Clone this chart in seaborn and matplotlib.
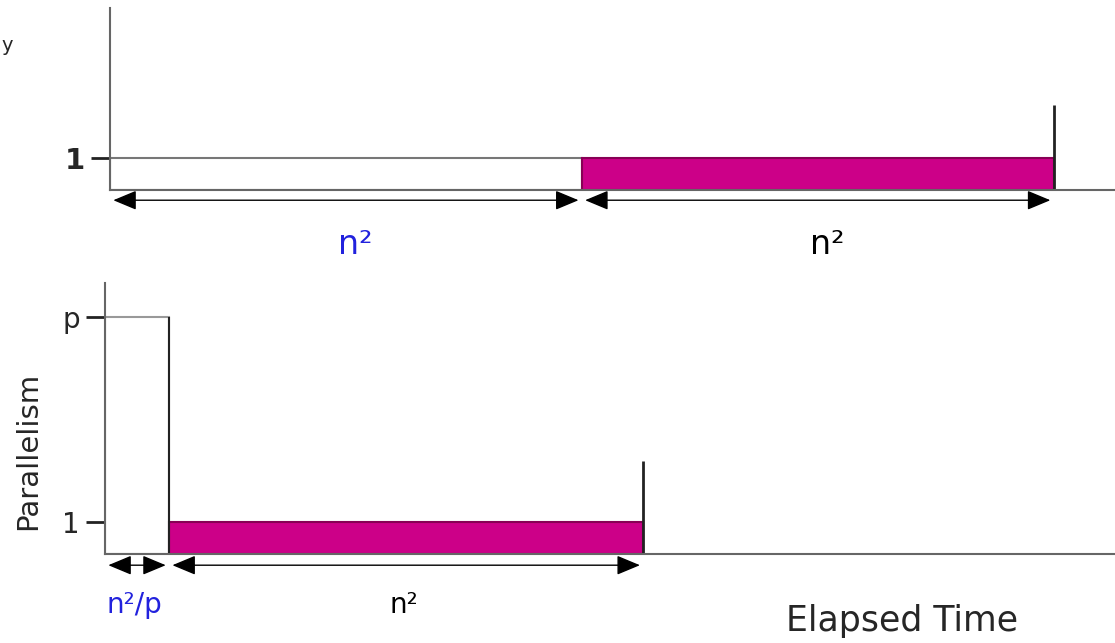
import seaborn as sns
import matplotlib.pyplot as plt

# top panel: sequential part then parallelizable part (units of n^2)
top_start = [0, 1]
top_width = [1, 1]
top_height = [1, 1]
top_colors = ['white', '#cc0088']
top_labels = ['n²', 'n²']
top_label_colors = ['#2222dd', 'black']

# bottom panel: p-way parallel part then sequential part
p = 7.4
bot_start = [0, 1 / p]
bot_width = [1 / p, 1]
bot_height = [p, 1]
bot_colors = ['white', '#cc0088']
bot_labels = ['n²/p', 'n²']
bot_label_colors = ['#2222dd', 'black']

sns.set_theme(style='white')
plt.rcParams['font.family'] = ['DejaVu Sans']

W, H = 1115, 643
fig = plt.figure(figsize=(W / 100, H / 100), dpi=100)

ax1 = fig.add_axes([110 / W, (H - 190) / H, (W - 110) / W, (190 - 8) / H])
ax2 = fig.add_axes([105 / W, (H - 554) / H, (W - 105) / W, (554 - 283) / H])


def style(ax, ymax):
    ax.set_xlim(0, 2.13)
    ax.set_ylim(0, ymax)
    sns.despine(ax=ax)
    for s in ['left', 'bottom']:
        ax.spines[s].set_color('#666666')
        ax.spines[s].set_linewidth(1.5)
    ax.set_xticks([])
    ax.tick_params(axis='y', left=True, length=14, width=2, color='#222222',
                   pad=4, labelsize=20)


def arrow(ax, x0, x1, y):
    ax.annotate('', xy=(x1, y), xytext=(x0, y), xycoords='data',
                annotation_clip=False,
                arrowprops=dict(arrowstyle='<|-|>,head_length=1.2,head_width=0.5',
                                color='black', lw=1, shrinkA=0, shrinkB=0,
                                mutation_scale=12))


# ---- top panel
style(ax1, 5.7)
ax1.bar(top_start, top_height, width=top_width, align='edge', color=top_colors,
        edgecolor=['#777777', '#880055'], linewidth=1.5)
ax1.vlines(2, 0, 2.66, color='#222222', lw=2)
ax1.set_yticks([1])
ax1.set_yticklabels(['1'], fontweight='bold', fontsize=21)
for s, w, lab, c in zip(top_start, top_width, top_labels, top_label_colors):
    arrow(ax1, s + 0.007, s + w - 0.007, -0.32)
    ax1.text(s + w / 2 + 0.02, -1.7, lab, ha='center', va='center', fontsize=24,
             color=c, clip_on=False)

# ---- bottom panel
style(ax2, 8.47)
ax2.bar(bot_start, bot_height, width=bot_width, align='edge', color=bot_colors,
        edgecolor=['#999999', '#880055'], linewidth=1.5)
ax2.vlines([bot_start[1]], 0, p, color='#222222', lw=1.5)
ax2.vlines(bot_start[1] + bot_width[1], 0, 2.9, color='#222222', lw=2)
ax2.set_yticks([1, p])
ax2.set_yticklabels(['1', 'p'])
for s, w, lab, c in zip(bot_start, bot_width, bot_labels, bot_label_colors):
    arrow(ax2, s + 0.007, s + w - 0.007, -0.35)
    ax2.text(s + w / 2 - 0.005, -1.6, lab, ha='center', va='center', fontsize=20,
             color=c, clip_on=False)
ax2.set_ylabel('Parallelism', fontsize=21)
ax2.yaxis.set_label_coords(-0.062, 0.38)
ax2.text(1.68, -2.1, 'Elapsed Time', ha='center', va='center', fontsize=25,
         clip_on=False)

fig.text(0.001, 0.93, 'y', fontsize=14, ha='left', va='center')

fig.savefig('out.png', dpi=100)
